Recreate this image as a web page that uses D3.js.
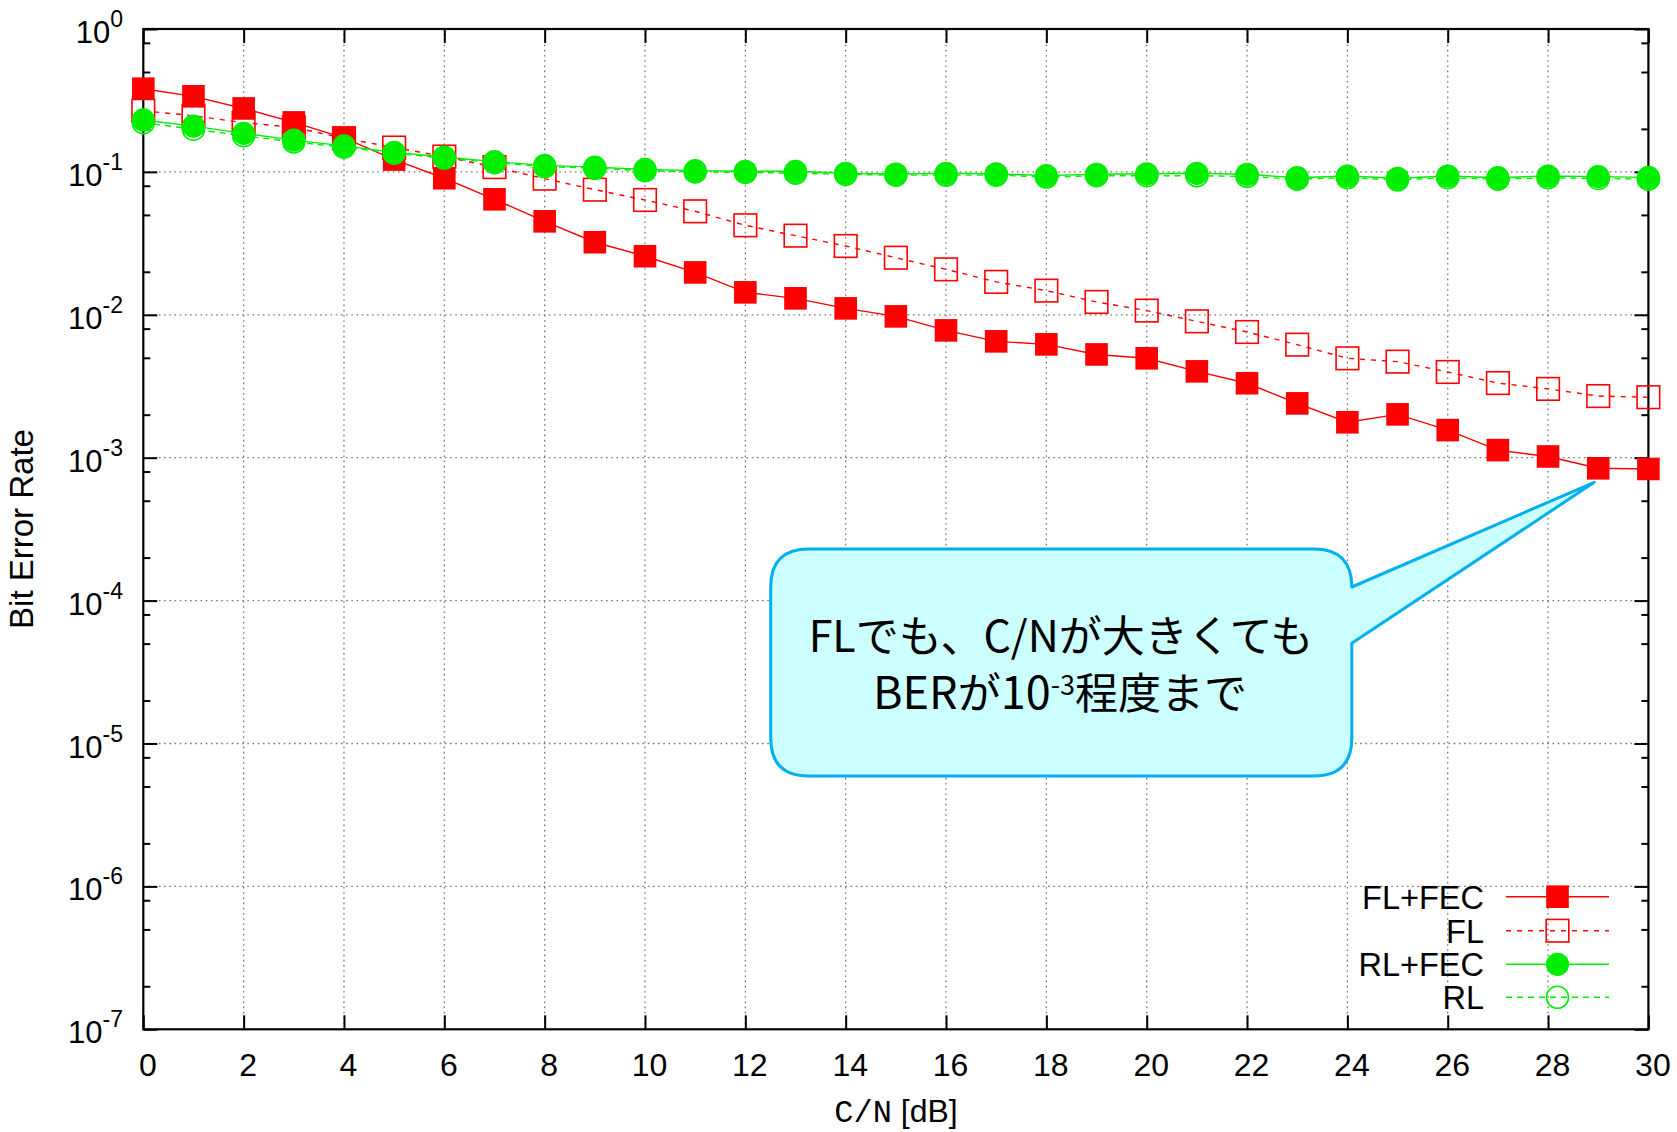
<!DOCTYPE html>
<html>
<head>
<meta charset="utf-8">
<script src="https://cdn.jsdelivr.net/npm/d3@7"></script>
<style>
    body { margin:0; background:#fff; }
    text { font-family:"Liberation Sans", Arial, sans-serif; fill:#000; }
    tspan.mono { font-family:"Liberation Mono", "DejaVu Sans Mono", monospace; }
</style>
</head>
<body>
<svg id="chart" width="1677" height="1132"></svg>
<script>
//Chart data
var cn      = [0,1,2,3,4,5,6,7,8,9,10,11,12,13,14,15,16,17,18,19,20,21,22,23,24,25,26,27,28,29,30];
var flFec   = [0.382,0.338,0.278,0.222,0.173,0.122,0.0903,0.0643,0.0451,0.0322,0.0257,0.0198,0.01436,0.01304,0.01109,0.00975,0.00778,0.00652,0.00621,0.00528,0.00496,0.00402,0.00332,0.00240,0.00177,0.00201,0.00156,0.00113,0.00102,0.000843,0.000834];
var fl      = [0.268,0.247,0.221,0.205,0.172,0.148,0.128,0.108,0.0897,0.0751,0.0636,0.0530,0.0423,0.0358,0.0303,0.0251,0.0208,0.0170,0.01476,0.0123,0.0107,0.0090,0.00758,0.00618,0.00496,0.00470,0.00398,0.00333,0.00303,0.00270,0.00265];
var rlFec   = [0.231,0.209,0.186,0.167,0.152,0.137,0.127,0.118,0.111,0.108,0.104,0.102,0.101,0.101,0.0978,0.0967,0.0978,0.0970,0.0941,0.0962,0.0970,0.0978,0.0962,0.0911,0.0936,0.0902,0.0936,0.0911,0.0936,0.0926,0.0916];
var rl      = [0.221,0.199,0.179,0.162,0.149,0.135,0.125,0.116,0.109,0.106,0.102,0.100,0.099,0.098,0.096,0.095,0.095,0.095,0.092,0.094,0.094,0.094,0.093,0.089,0.091,0.088,0.091,0.089,0.091,0.090,0.089];

var xTicks      = [0,2,4,6,8,10,12,14,16,18,20,22,24,26,28,30];
var yExponents  = [0,-1,-2,-3,-4,-5,-6,-7];
var yMinorMant  = [2,5,8];

var seriesNames = ["FL+FEC","FL","RL+FEC","RL"];
var calloutL1   = "FLでも、C/Nが大きくても";
//line 2 pieces: [text, size, raise]
var calloutL2   = [["BER",45,0],["が",43,0],["10",45,0],["-3",27,14],["程度まで",43,0]];

var RED = "#ff0000", GREEN = "#00ee00";

var svg = d3.select("#chart");

//Scales
var x = d3.scaleLinear().domain([0,30]).range([143.3,1648.4]);
var y = d3.scaleLog().domain([1e-7,1]).range([1029.3,29]);

var decades = yExponents.map(function(e){ return Math.pow(10,e); });
var minors = [];
yExponents.forEach(function(e){
    if (e === 0) return;
    yMinorMant.forEach(function(m){ minors.push(m*Math.pow(10,e)); });
});

//Grid (dotted)
var grid = svg.append("g").attr("stroke","#777").attr("stroke-width",1.3).attr("stroke-dasharray","1.6,3.6");
grid.selectAll(".gx").data(xTicks.slice(1,-1)).enter().append("line")
    .attr("x1",function(d){ return x(d); }).attr("x2",function(d){ return x(d); })
    .attr("y1",y(1)).attr("y2",y(1e-7));
grid.selectAll(".gy").data(decades.slice(1,-1)).enter().append("line")
    .attr("x1",x(0)).attr("x2",x(30))
    .attr("y1",function(d){ return y(d); }).attr("y2",function(d){ return y(d); });

//Axes ticks (inward)
function styleAxis(g){
    g.attr("font-family",null);
    g.select(".domain").remove();
    g.selectAll(".tick line").attr("stroke","#000").attr("stroke-width",2);
}
svg.append("g").attr("transform","translate(0,"+y(1e-7)+")")
    .call(d3.axisBottom(x).tickValues(xTicks).tickSize(-14).tickPadding(24).tickFormat(d3.format("d")))
    .call(styleAxis)
    .selectAll("text").attr("font-size",32).attr("dx",4);
svg.append("g").attr("transform","translate(0,"+y(1)+")")
    .call(d3.axisTop(x).tickValues(xTicks).tickSize(-14).tickFormat(""))
    .call(styleAxis);
svg.append("g").attr("transform","translate("+x(0)+",0)")
    .call(d3.axisLeft(y).tickValues(decades).tickSize(-14).tickFormat(""))
    .call(styleAxis);
svg.append("g").attr("transform","translate("+x(0)+",0)")
    .call(d3.axisLeft(y).tickValues(minors).tickSize(-7).tickFormat(""))
    .call(styleAxis);
svg.append("g").attr("transform","translate("+x(30)+",0)")
    .call(d3.axisRight(y).tickValues(decades).tickSize(-14).tickFormat(""))
    .call(styleAxis);
svg.append("g").attr("transform","translate("+x(30)+",0)")
    .call(d3.axisRight(y).tickValues(minors).tickSize(-7).tickFormat(""))
    .call(styleAxis);

//Y tick labels with superscripts
var yl = svg.append("g").selectAll("text").data(yExponents).enter().append("text")
    .attr("x",123).attr("y",function(e){ return y(Math.pow(10,e))+14; })
    .attr("text-anchor","end").attr("font-size",31);
yl.append("tspan").text("10");
yl.append("tspan").attr("dy",-16).attr("font-size",23).text(function(e){ return e; });

//Axis titles
svg.append("text").attr("transform","translate(33,529) rotate(-90)")
    .attr("text-anchor","middle").attr("font-size",33).text("Bit Error Rate");
var xt = svg.append("text").attr("x",896).attr("y",1122).attr("text-anchor","middle").attr("font-size",32);
xt.append("tspan").attr("class","mono").text("C/N");
xt.append("tspan").text(" [dB]");

//Plot border
svg.append("rect").attr("x",x(0)).attr("y",y(1))
    .attr("width",x(30)-x(0)).attr("height",y(1e-7)-y(1))
    .attr("fill","none").attr("stroke","#000").attr("stroke-width",2.2);

//Series definitions
var series = [
    {name:seriesNames[0], vals:flFec, color:RED,   dash:null,  shape:"square", filled:true },
    {name:seriesNames[1], vals:fl,    color:RED,   dash:"5,6", shape:"square", filled:false},
    {name:seriesNames[2], vals:rlFec, color:GREEN, dash:null,  shape:"circle", filled:true },
    {name:seriesNames[3], vals:rl,    color:GREEN, dash:"6,5", shape:"circle", filled:false}
];

function drawMarker(g, s, cx, cy){
    if (s.shape === "square")
    {
        g.append("rect").attr("x",cx-11.3).attr("y",cy-11.3).attr("width",22.6).attr("height",22.6)
            .attr("fill",s.filled ? s.color : "none").attr("stroke",s.color).attr("stroke-width",s.filled ? 0 : 1.6);
    }
    else
    {
        g.append("circle").attr("cx",cx).attr("cy",cy).attr("r",s.filled ? 11.6 : 11)
            .attr("fill",s.filled ? s.color : "none").attr("stroke",s.color).attr("stroke-width",s.filled ? 0 : 1.6);
    }
}

var line = d3.line().x(function(d){ return x(d[0]); }).y(function(d){ return y(d[1]); });

series.forEach(function(s){
    var pts = cn.map(function(c,i){ return [c, s.vals[i]]; });
    var g = svg.append("g");
    g.append("path").attr("d",line(pts)).attr("fill","none")
        .attr("stroke",s.color).attr("stroke-width",1.4)
        .attr("stroke-dasharray",s.dash);
    pts.forEach(function(p){ drawMarker(g, s, x(p[0]), y(p[1])); });
});

//Legend
var legRows = [896.7,930.7,964.3,997.3];
series.forEach(function(s,i){
    var g = svg.append("g");
    g.append("text").attr("x",1484).attr("y",legRows[i]+12).attr("text-anchor","end")
        .attr("font-size",32.5).text(s.name);
    g.append("line").attr("x1",1506).attr("x2",1609).attr("y1",legRows[i]).attr("y2",legRows[i])
        .attr("stroke",s.color).attr("stroke-width",1.4).attr("stroke-dasharray",s.dash);
    drawMarker(g, s, 1557.5, legRows[i]);
});

//Callout balloon
var bx0 = 770.7, bx1 = 1351.8, by0 = 549, by1 = 776, r = 38;
var tip = [x(29)-4, y(flFec[29])+14];
var p = d3.path();
p.moveTo(bx0+r, by0);
p.lineTo(bx1-r, by0);
p.quadraticCurveTo(bx1, by0, bx1, by0+r);
p.lineTo(tip[0], tip[1]);
p.lineTo(bx1, 643.3);
p.lineTo(bx1, by1-r);
p.quadraticCurveTo(bx1, by1, bx1-r, by1);
p.lineTo(bx0+r, by1);
p.quadraticCurveTo(bx0, by1, bx0, by1-r);
p.lineTo(bx0, by0+r);
p.quadraticCurveTo(bx0, by0, bx0+r, by0);
p.closePath();
svg.append("path").attr("d",p.toString()).attr("fill","#ccffff")
    .attr("stroke","#00b0f0").attr("stroke-width",3).attr("stroke-linejoin","round");

var cf = "'Noto Sans CJK JP', 'Liberation Sans', sans-serif";
svg.append("text").attr("x",1061).attr("y",651.7).attr("text-anchor","middle")
    .attr("font-size",43).style("font-family",cf).text(calloutL1);
var t2 = svg.append("text").attr("x",1060).attr("y",709).attr("text-anchor","middle")
    .style("font-family",cf);
var prevRaise = 0;
calloutL2.forEach(function(part){
    t2.append("tspan").attr("font-size",part[1]).attr("dy",prevRaise-part[2]).text(part[0]);
    prevRaise = part[2];
});
</script>
</body>
</html>
